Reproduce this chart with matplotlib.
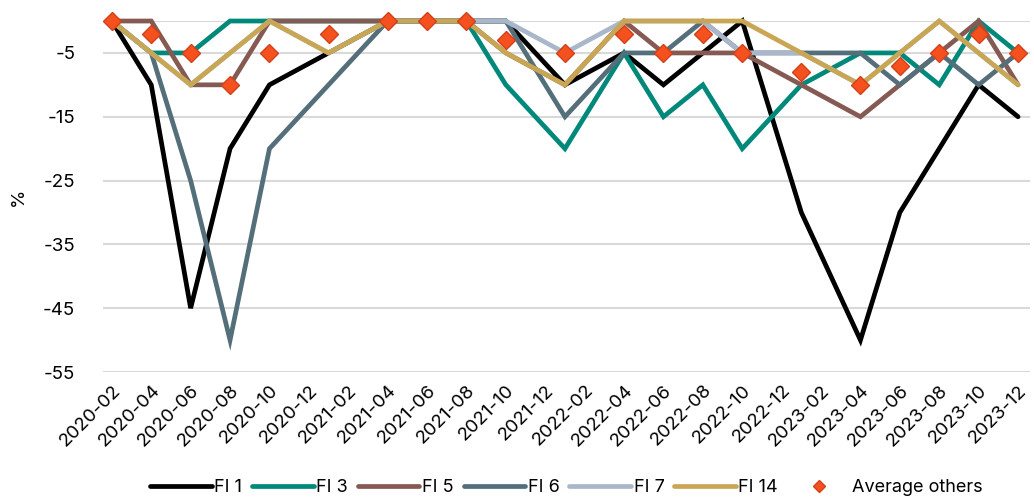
import pandas as pd
import matplotlib
matplotlib.use("Agg")
import matplotlib.pyplot as plt

plt.rcParams["font.family"] = ["Inter", "DejaVu Sans"]
plt.rcParams["axes.unicode_minus"] = False

# dates des observations (axe en mois)
dates = ["2020-02", "2020-04", "2020-06", "2020-08", "2020-10", "2021-01",
         "2021-04", "2021-06", "2021-08", "2021-10", "2022-01", "2022-04",
         "2022-06", "2022-08", "2022-10", "2023-01", "2023-04", "2023-06",
         "2023-08", "2023-10", "2023-12"]

fi1 = [0, -10, -45, -20, -10, -5, 0, 0, 0, 0, -10, -5, -10, -5, 0, -30, -50, -30, -20, -10, -15]
fi3 = [0, -5, -5, 0, 0, 0, 0, 0, 0, -10, -20, -5, -15, -10, -20, -10, -5, -5, -10, 0, -5]
fi5 = [0, 0, -10, -10, 0, 0, 0, 0, 0, -5, -10, 0, -5, -5, -5, -10, -15, -10, -5, 0, -10]
fi6 = [0, -5, -25, -50, -20, -10, 0, 0, 0, 0, -15, -5, -5, 0, -5, -5, -5, -10, -5, -10, -5]
fi7 = [0, -5, -10, -5, 0, -5, 0, 0, 0, 0, -5, 0, 0, 0, -5, -5, -10, -5, 0, -5, -10]
fi14 = [0, -5, -10, -5, 0, -5, 0, 0, 0, -5, -10, 0, 0, 0, 0, -5, -10, -5, 0, -5, -10]
avg_others = [0, -2, -5, -10, -5, -2, 0, 0, 0, -3, -5, -2, -5, -2, -5, -8, -10, -7, -5, -2, -5]

tick_labels = [f"{y}-{m:02d}" for y in (2020, 2021, 2022, 2023) for m in range(2, 13, 2)]

# ========================

start = pd.Period("2020-02", freq="M")
x = [(pd.Period(d, freq="M") - start).n for d in dates]
x_ticks = [(pd.Period(t, freq="M") - start).n for t in tick_labels]

series = [
    ("FI 1", fi1, "#000000"),
    ("FI 3", fi3, "#00897b"),
    ("FI 5", fi5, "#845a53"),
    ("FI 6", fi6, "#546e7a"),
    ("FI 7", fi7, "#aab7ca"),
    ("FI 14", fi14, "#c9a654"),
]

fig = plt.figure(figsize=(10.34, 4.97), dpi=100)
ax = fig.add_axes([0.0996, 0.2515, 0.8964, 0.7062])

for name, vals, col in series:
    ax.plot(x, vals, color=col, linewidth=3.4, label=name,
            solid_capstyle="round", solid_joinstyle="miter", clip_on=False, zorder=3)

ax.plot(x, avg_others, linestyle="none", marker="D", markersize=9,
        markerfacecolor="#f4511e", markeredgecolor="#d3401a", markeredgewidth=1,
        label="Average others", clip_on=False, zorder=4)

ax.set_xlim(-0.45, 46.6)
ax.set_ylim(-55, 0)
ax.set_yticks([-55, -45, -35, -25, -15, -5])
ax.set_xticks(x_ticks)
ax.set_xticklabels(tick_labels, rotation=45, ha="right", rotation_mode="anchor", fontsize=13.5)
ax.tick_params(axis="x", length=0, pad=7)
ax.tick_params(axis="y", length=0, labelsize=13.5, pad=20)
ax.set_ylabel("%", fontsize=13.5, labelpad=12)

ax.grid(axis="y", color="#d9d9d9", linewidth=1.5)
ax.axhline(0, color="#d9d9d9", linewidth=1.5, zorder=1)
for s in ax.spines.values():
    s.set_visible(False)

leg = ax.legend(loc="center", bbox_to_anchor=(0.5, -0.33), ncol=7, frameon=False,
                fontsize=13, handlelength=3.4, handletextpad=0.15, columnspacing=0.55,
                markerscale=0.65)

fig.savefig("out.png", dpi=100)
